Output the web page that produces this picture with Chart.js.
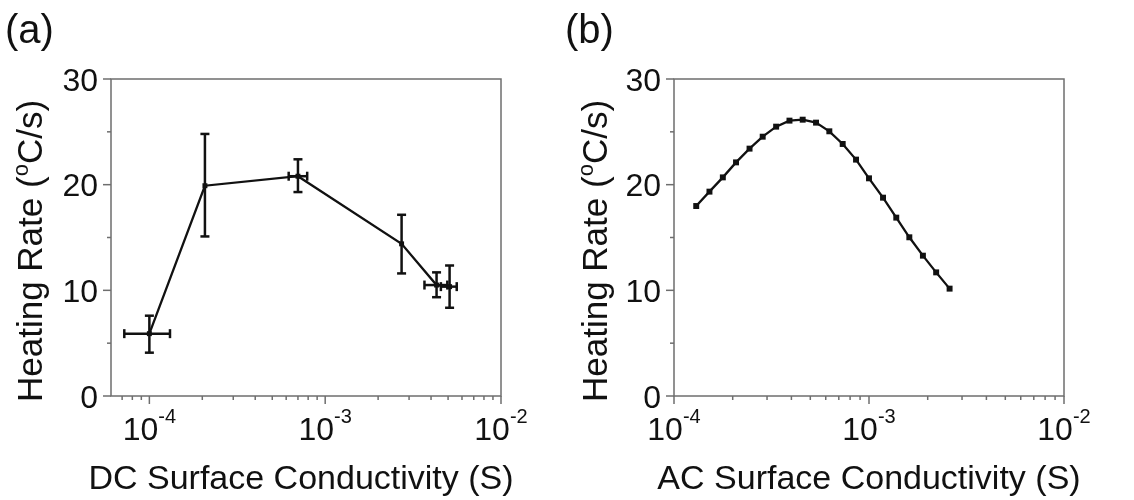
<!DOCTYPE html>
<html>
<head>
<meta charset="utf-8">
<script src="https://cdn.jsdelivr.net/npm/chart.js@4"></script>
<style>
  body { margin: 0; background: #fff; width: 1134px; height: 500px; position: relative; overflow: hidden; }
  canvas { position: absolute; top: 0; }
  #dc { left: 0; }
  #ac { left: 540px; }
</style>
</head>
<body>
<canvas id="dc" width="560" height="500"></canvas>
<canvas id="ac" width="594" height="500"></canvas>
<script>
// (a) DC measurements, with error bars
const dcX = [1.0e-4, 2.07e-4, 7.0e-4, 2.72e-3, 4.3e-3, 5.1e-3];
const dcY = [5.9, 19.9, 20.8, 14.4, 10.5, 10.35];
const dcYLow = [4.1, 15.1, 19.3, 11.6, 9.35, 8.35];
const dcYHigh = [7.6, 24.8, 22.4, 17.15, 11.7, 12.35];
const dcXLow = [7.2e-5, null, 6.2e-4, null, 3.67e-3, 4.55e-3];
const dcXHigh = [1.31e-4, null, 7.9e-4, null, 4.95e-3, 5.6e-3];

// (b) AC model curve
const acX = [1.30e-4, 1.52e-4, 1.78e-4, 2.08e-4, 2.44e-4, 2.85e-4, 3.34e-4, 3.91e-4, 4.57e-4, 5.35e-4,
             6.26e-4, 7.33e-4, 8.58e-4, 1.00e-3, 1.18e-3, 1.38e-3, 1.61e-3, 1.89e-3, 2.21e-3, 2.59e-3];
const acY = [17.98, 19.34, 20.69, 22.11, 23.41, 24.54, 25.49, 26.06, 26.15, 25.87,
             25.05, 23.85, 22.37, 20.60, 18.77, 16.88, 15.02, 13.28, 11.70, 10.16];

const yMajor = [0, 10, 20, 30];
const yMinor = [5, 15, 25];
const xMajor = [1e-4, 1e-3, 1e-2];
const xMajorExp = ["-4", "-3", "-2"];

const FONT = '"Liberation Sans", Arial, sans-serif';
const INK = "#111";
const AXIS = "#6e6e6e";

function seg(ctx, x1, y1, x2, y2) {
  ctx.beginPath();
  ctx.moveTo(x1, y1);
  ctx.lineTo(x2, y2);
  ctx.stroke();
}

/* box, ticks, labels, titles, error bars */
function framePlugin(cfg) {
  return {
    id: "frame",
    beforeDatasetsDraw(chart) {
      const e = cfg.err;
      if (!e) return;
      const { ctx, scales: { x, y } } = chart;
      ctx.save();
      ctx.strokeStyle = INK;
      ctx.lineWidth = 2.5;
      e.x.forEach((xv, i) => {
        const px = x.getPixelForValue(xv);
        const py = y.getPixelForValue(e.y[i]);
        const top = y.getPixelForValue(e.yHigh[i]);
        const bot = y.getPixelForValue(e.yLow[i]);
        seg(ctx, px, top, px, bot);
        seg(ctx, px - 4.5, top, px + 4.5, top);
        seg(ctx, px - 4.5, bot, px + 4.5, bot);
        if (e.xLow[i] != null) {
          const l = x.getPixelForValue(e.xLow[i]);
          const r = x.getPixelForValue(e.xHigh[i]);
          seg(ctx, l, py, r, py);
          seg(ctx, l, py - 4.5, l, py + 4.5);
          seg(ctx, r, py - 4.5, r, py + 4.5);
        }
      });
      ctx.restore();
    },
    afterDraw(chart) {
      const { ctx, chartArea: a, scales: { x, y } } = chart;
      ctx.save();
      ctx.strokeStyle = AXIS;
      ctx.lineWidth = 1.5;
      ctx.strokeRect(a.left, a.top, a.right - a.left, a.bottom - a.top);

      // y ticks
      yMajor.forEach(v => {
        const py = y.getPixelForValue(v);
        seg(ctx, a.left - 8, py, a.left, py);
      });
      yMinor.forEach(v => {
        const py = y.getPixelForValue(v);
        seg(ctx, a.left - 4, py, a.left, py);
      });
      // x ticks
      xMajor.forEach(v => {
        const px = x.getPixelForValue(v);
        seg(ctx, px, a.bottom, px, a.bottom + 8);
      });
      for (let d = -5; d <= -3; d++) {
        for (let k = 2; k <= 9; k++) {
          const v = k * Math.pow(10, d);
          if (v < x.min || v > x.max) continue;
          const px = x.getPixelForValue(v);
          seg(ctx, px, a.bottom, px, a.bottom + 4);
        }
      }

      ctx.fillStyle = INK;
      // y tick labels
      ctx.font = "32px " + FONT;
      ctx.textAlign = "right";
      ctx.textBaseline = "alphabetic";
      yMajor.forEach(v => {
        const py = y.getPixelForValue(v);
        ctx.fillText(String(v), a.left - 13, py + 11.5);
      });
      // x tick labels 10^n
      ctx.textAlign = "left";
      xMajor.forEach((v, i) => {
        const px = x.getPixelForValue(v);
        ctx.font = "32px " + FONT;
        const w1 = ctx.measureText("10").width;
        ctx.font = "20px " + FONT;
        const w2 = ctx.measureText(xMajorExp[i]).width;
        const x0 = px - (w1 + w2) / 2;
        ctx.font = "32px " + FONT;
        ctx.fillText("10", x0, 440);
        ctx.font = "20px " + FONT;
        ctx.fillText(xMajorExp[i], x0 + w1, 423);
      });

      // x title
      ctx.font = "34px " + FONT;
      ctx.textAlign = "center";
      ctx.fillText(cfg.xTitle, (a.left + a.right) / 2 + cfg.xTitleShift, 489);

      // y title with superscript o
      ctx.save();
      ctx.translate(cfg.yTitleX, 251);
      ctx.rotate(-Math.PI / 2);
      ctx.textAlign = "left";
      const p1 = "Heating Rate (", p2 = "o", p3 = "C/s)";
      ctx.font = "35px " + FONT;
      const w1 = ctx.measureText(p1).width, w3 = ctx.measureText(p3).width;
      ctx.font = "22px " + FONT;
      const w2 = ctx.measureText(p2).width;
      let sx = -(w1 + w2 + w3) / 2;
      ctx.font = "35px " + FONT;
      ctx.fillText(p1, sx, 0);
      ctx.font = "22px " + FONT;
      ctx.fillText(p2, sx + w1, -14);
      ctx.font = "35px " + FONT;
      ctx.fillText(p3, sx + w1 + w2, 0);
      ctx.restore();

      // panel label
      ctx.font = "40px " + FONT;
      ctx.textAlign = "left";
      ctx.fillText(cfg.label, cfg.labelX, 43);
      ctx.restore();
    }
  };
}

function makeChart(id, pts, opt) {
  return new Chart(document.getElementById(id), {
    type: "scatter",
    data: {
      datasets: [{
        data: pts,
        showLine: true,
        borderColor: INK,
        backgroundColor: INK,
        borderWidth: 2.3,
        pointStyle: "rect",
        pointRadius: opt.pointRadius,
        pointBorderWidth: 0
      }]
    },
    options: {
      responsive: false,
      animation: false,
      layout: { padding: { left: 0, top: 79, right: opt.padRight, bottom: 0 } },
      plugins: { legend: { display: false }, tooltip: { enabled: false } },
      scales: {
        x: {
          type: "logarithmic",
          min: opt.xMin,
          max: 1e-2,
          ticks: { display: false },
          grid: { display: false },
          border: { display: false },
          afterFit: s => { s.height = 104; }
        },
        y: {
          type: "linear",
          min: 0,
          max: 30,
          ticks: { display: false },
          grid: { display: false },
          border: { display: false },
          afterFit: s => { s.width = opt.yWidth; }
        }
      }
    },
    plugins: [framePlugin(opt.frame)]
  });
}

makeChart("dc", dcX.map((v, i) => ({ x: v, y: dcY[i] })), {
  pointRadius: 3.5,
  padRight: 560 - 501,
  yWidth: 111,
  xMin: 6.05e-5,
  frame: {
    label: "(a)", labelX: 5, xTitle: "DC Surface Conductivity (S)", xTitleShift: -5, yTitleX: 42,
    err: { x: dcX, y: dcY, yLow: dcYLow, yHigh: dcYHigh, xLow: dcXLow, xHigh: dcXHigh }
  }
});

makeChart("ac", acX.map((v, i) => ({ x: v, y: acY[i] })), {
  pointRadius: 4.2,
  padRight: 594 - 524,
  yWidth: 134,
  xMin: 1e-4,
  frame: {
    label: "(b)", labelX: 25, xTitle: "AC Surface Conductivity (S)", xTitleShift: 0, yTitleX: 67,
    err: null
  }
});
</script>
</body>
</html>
